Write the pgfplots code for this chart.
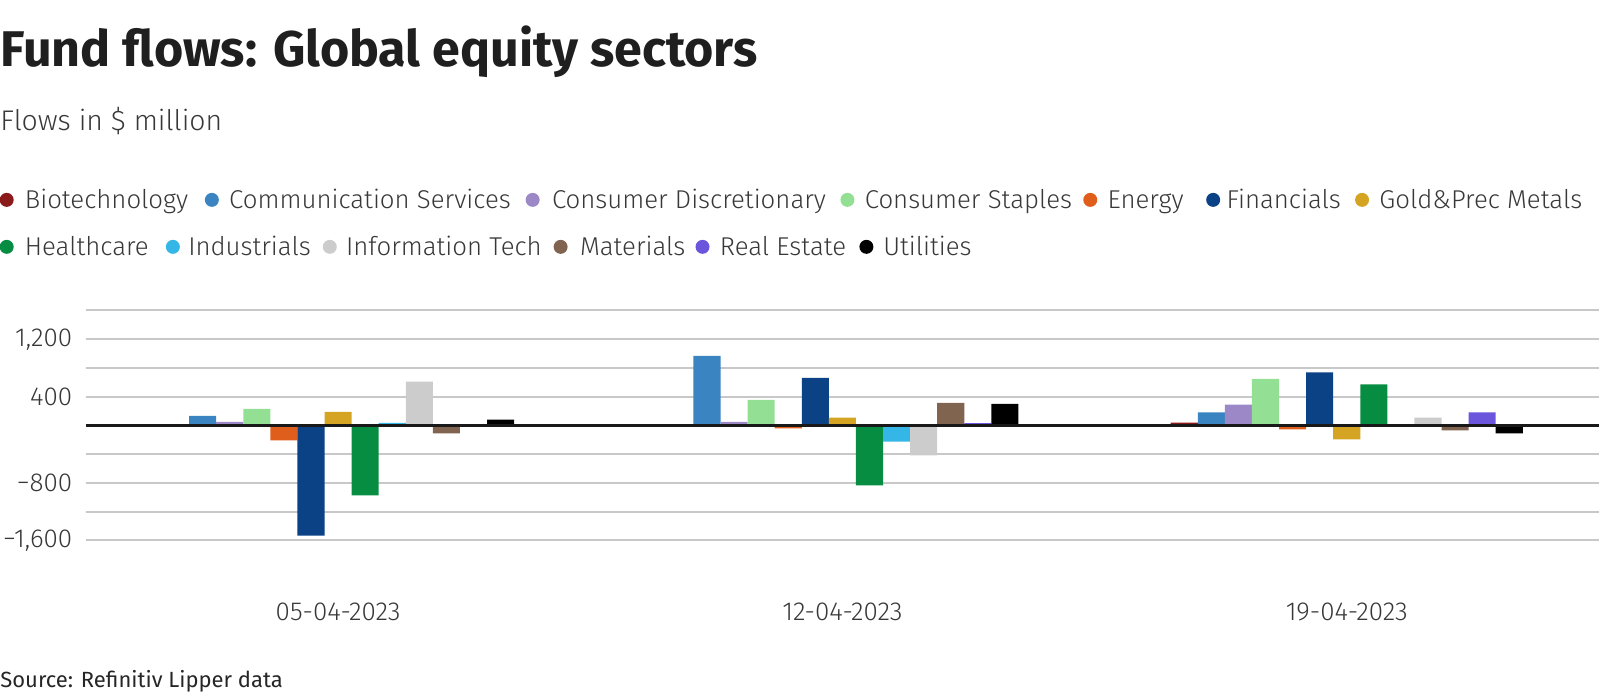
\documentclass[border=0pt]{standalone}
\usepackage{fontspec}
\setmainfont{Fira Sans}
\newfontfamily\lightfont{Fira Sans Light}
\usepackage{pgfplots}
\pgfplotsset{compat=1.18}

\definecolor{cBio}{HTML}{8B1A1A}
\definecolor{cCom}{HTML}{3A84C2}
\definecolor{cDis}{HTML}{9C87C7}
\definecolor{cSta}{HTML}{93E095}
\definecolor{cEne}{HTML}{E05E1B}
\definecolor{cFin}{HTML}{0B4185}
\definecolor{cGol}{HTML}{D5A423}
\definecolor{cHea}{HTML}{078D42}
\definecolor{cInd}{HTML}{34B6E6}
\definecolor{cInf}{HTML}{CCCCCC}
\definecolor{cMat}{HTML}{806450}
\definecolor{cRea}{HTML}{6B55DD}
\definecolor{cUti}{HTML}{000000}
\definecolor{gridgray}{HTML}{C8C8C8}
\definecolor{txt}{HTML}{383838}

\begin{document}
\begin{tikzpicture}
% titles and legend, in pixel units of the reference (origin top left)
\begin{scope}[x=0.5pt,y=-0.5pt]
\path[use as bounding box] (0,0) rectangle (1600,697);
\node[anchor=base west,inner sep=0,text=black!88,font=\bfseries\fontsize{25.1}{30}\selectfont] at (0,67) {Fund flows: Global equity sectors};
\node[anchor=base west,inner sep=0,text=txt,font=\lightfont\fontsize{14.2}{17}\selectfont] at (0,131) {Flows in \$ million};
\node[anchor=base west,inner sep=0,text=black!85,font=\fontsize{11}{14}\selectfont] at (0,688) {Source: Refinitiv Lipper data};
% legend, row 1
\foreach \c/\d/\t/\s in {cBio/6.7/24.5/Biotechnology, cCom/212/229/Communication Services,
  cDis/533/552/Consumer Discretionary, cSta/848/865/Consumer Staples, cEne/1091/1108/Energy,
  cFin/1214/1227/Financials, cGol/1363/1380/Gold\&Prec Metals}{
  \fill[\c] (\d,200) circle (7);
  \node[anchor=base west,inner sep=0,text=txt,font=\lightfont\fontsize{12.9}{15}\selectfont] at (\t,209) {\s};
}
% legend, row 2
\foreach \c/\d/\t/\s in {cHea/6.7/24.5/Healthcare, cInd/173/188/Industrials, cInf/330/346/Information Tech,
  cMat/561/580/Materials, cRea/703/720/Real Estate, cUti/867/883.5/Utilities}{
  \fill[\c] (\d,247) circle (7);
  \node[anchor=base west,inner sep=0,text=txt,font=\lightfont\fontsize{12.9}{15}\selectfont] at (\t,256) {\s};
}
\end{scope}

\begin{axis}[
  at={(43pt,-270.35pt)}, anchor=south west,
  scale only axis, width=757pt, height=115pt,
  xmin=-0.5, xmax=2.5, ymin=-1600, ymax=1600,
  axis line style={draw=none},
  major tick length=0pt,
  ybar=0pt, bar width=13.55pt,
  ymajorgrids, grid style={color=gridgray, line width=1pt},
  ytick={-1600,-1200,-800,-400,0,400,800,1200,1600},
  yticklabels={{−1,600},{},{−800},{},{},{400},{},{1,200},{}},
  xtick={0,1,2},
  xticklabels={05-04-2023,12-04-2023,19-04-2023},
  ticklabel style={font=\lightfont\fontsize{13}{15}\selectfont, text=txt, inner sep=0pt},
  yticklabel style={anchor=east, xshift=-6.65pt},
  xticklabel style={anchor=north, yshift=-31.15pt},
  clip=false,
]
\addplot[fill=cBio, draw=none] coordinates {(0,0) (1,0) (2,40)};
\addplot[fill=cCom, draw=none] coordinates {(0,134) (1,969) (2,181)};
\addplot[fill=cDis, draw=none] coordinates {(0,51) (1,51) (2,288)};
\addplot[fill=cSta, draw=none] coordinates {(0,232) (1,357) (2,649)};
\addplot[fill=cEne, draw=none] coordinates {(0,-209) (1,-42) (2,-56)};
\addplot[fill=cFin, draw=none] coordinates {(0,-1535) (1,663) (2,737)};
\addplot[fill=cGol, draw=none] coordinates {(0,190) (1,107) (2,-195)};
\addplot[fill=cHea, draw=none] coordinates {(0,-974) (1,-835) (2,571)};
\addplot[fill=cInd, draw=none] coordinates {(0,37) (1,-227) (2,0)};
\addplot[fill=cInf, draw=none] coordinates {(0,608) (1,-417) (2,107)};
\addplot[fill=cMat, draw=none] coordinates {(0,-111) (1,315) (2,-70)};
\addplot[fill=cRea, draw=none] coordinates {(0,19) (1,32) (2,181)};
\addplot[fill=cUti, draw=none] coordinates {(0,79) (1,301) (2,-111)};
\draw[black!90, line width=1.1pt] (axis cs:-0.5,0) -- (axis cs:2.5,0);
\end{axis}
\end{tikzpicture}
\end{document}
